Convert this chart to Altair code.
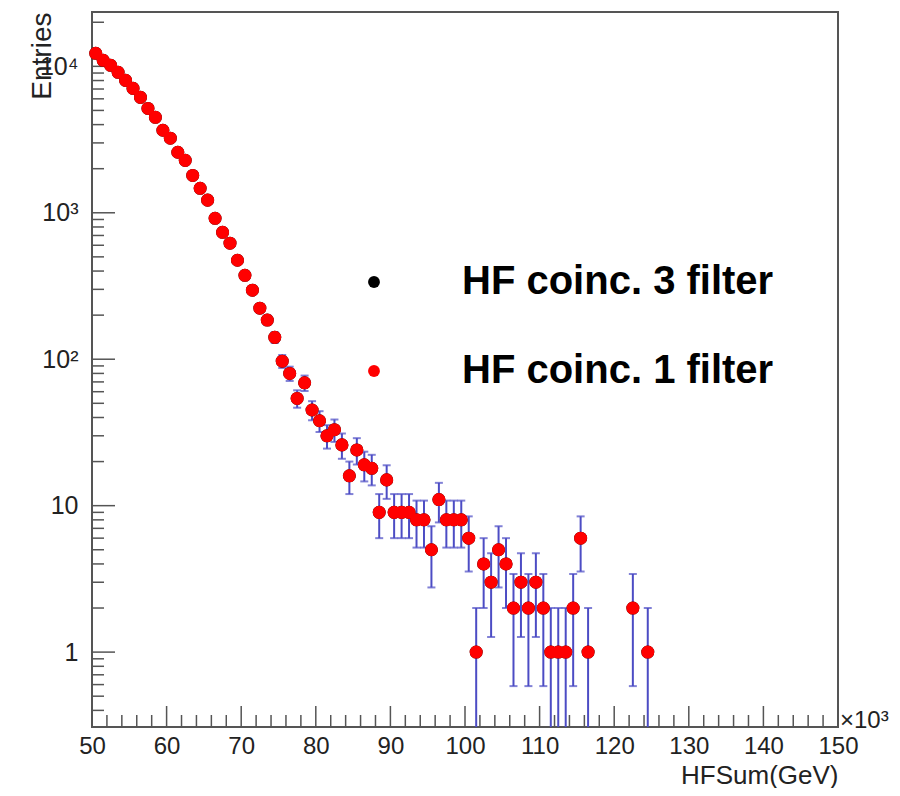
import math
import altair as alt
import pandas as pd

# ---------------- data ----------------
bin_centers = [50.5, 51.5, 52.5, 53.5, 54.5, 55.5, 56.5, 57.5, 58.5, 59.5,
               60.5, 61.5, 62.5, 63.5, 64.5, 65.5, 66.5, 67.5, 68.5, 69.5,
               70.5, 71.5, 72.5, 73.5, 74.5, 75.5, 76.5, 77.5, 78.5, 79.5,
               80.5, 81.5, 82.5, 83.5, 84.5, 85.5, 86.5, 87.5, 88.5, 89.5,
               90.5, 91.5, 92.5, 93.5, 94.5, 95.5, 96.5, 97.5, 98.5, 99.5,
               100.5, 101.5, 102.5, 103.5, 104.5, 105.5, 106.5, 107.5, 108.5, 109.5,
               110.5, 111.5, 112.5, 113.5, 114.5, 115.5, 116.5, 122.5, 124.5]

counts_coinc1 = [12270, 10990, 10160, 9100, 8020, 7070, 6140, 5160, 4490, 3660,
                 3230, 2590, 2280, 1800, 1470, 1220, 917, 736, 620, 474,
                 374, 296, 223, 185, 141, 97, 80, 54, 69, 45,
                 38, 30, 33, 26, 16, 24, 19, 18, 9, 15,
                 9, 9, 9, 8, 8, 5, 11, 8, 8, 8,
                 6, 1, 4, 3, 5, 4, 2, 3, 2, 3,
                 2, 1, 1, 1, 2, 6, 1, 2, 1]

counts_coinc3 = [12270, 10990, 10160, 9100, 8020, 7070, 6140, 5160, 4490, 3660,
                 3230, 2590, 2280, 1800, 1470, 1220, 917, 736, 620, 474,
                 374, 296, 223, 185, 141, 97, 80, 54, 69, 45,
                 38, 30, 33, 26, 16, 24, 19, 18, 9, 15,
                 9, 9, 9, 8, 8, 5, 11, 8, 8, 8,
                 6, 1, 4, 3, 5, 4, 2, 3, 2, 3,
                 2, 1, 1, 1, 2, 6, 1, 2, 1]

series_names = ["HF coinc. 3 filter", "HF coinc. 1 filter"]
series_colors = ["#000000", "#ff0000"]

x_label_values = [50, 60, 70, 80, 90, 100, 110, 120, 130, 140, 150]
x_major_ticks = [50, 60, 70, 80, 90, 100, 110, 120, 130, 140, 150]
x_minor_ticks = [52, 54, 56, 58, 62, 64, 66, 68, 72, 74, 76, 78, 82, 84, 86, 88,
                 92, 94, 96, 98, 102, 104, 106, 108, 112, 114, 116, 118,
                 122, 124, 126, 128, 132, 134, 136, 138, 142, 144, 146, 148]

y_label_values = [1, 10, 100, 1000, 10000]
y_label_texts = ["1", "10", "10²", "10³", "10⁴"]
y_minor_ticks = [0.4, 0.5, 0.6, 0.7, 0.8, 0.9,
                 2, 3, 4, 5, 6, 7, 8, 9,
                 20, 30, 40, 50, 60, 70, 80, 90,
                 200, 300, 400, 500, 600, 700, 800, 900,
                 2000, 3000, 4000, 5000, 6000, 7000, 8000, 9000, 20000]

x_domain = [50, 150]
y_domain = [0.308, 23500]

# ---------------- layout ----------------
W, H = 746, 715
FONT = "Liberation Sans"
AX = "#555555"
TXT = "#222222"
ERR = "#4c4cc4"

# ---------------- tables ----------------
pts = pd.DataFrame(
    [{"x": c, "n": n, "series": series_names[0]} for c, n in zip(bin_centers, counts_coinc3)]
    + [{"x": c, "n": n, "series": series_names[1]} for c, n in zip(bin_centers, counts_coinc1)]
)
err = pd.DataFrame({
    "x": bin_centers,
    "lo": [max(n - math.sqrt(n), 1e-3) for n in counts_coinc1],
    "hi": [n + math.sqrt(n) for n in counts_coinc1],
})
xt_major = pd.DataFrame({"v": x_major_ticks})
xt_minor = pd.DataFrame({"v": x_minor_ticks})
yt_major = pd.DataFrame({"v": y_label_values})
yt_minor = pd.DataFrame({"v": y_minor_ticks})

# label expression for the log axis
expr = "''"
for v, t in reversed(list(zip(y_label_values, y_label_texts))):
    expr = f"(abs(datum.value - {v}) < {v} * 0.01) ? '{t}' : " + expr

xscale = alt.Scale(domain=x_domain, nice=False, zero=False)
yscale = alt.Scale(type="log", domain=y_domain, nice=False)

xaxis = alt.Axis(values=x_label_values, ticks=False, domain=False, grid=False,
                 labelFont=FONT, labelFontSize=24, labelColor=TXT, labelPadding=7,
                 labelFlush=False, labelOverlap=False,
                 title="HFSum(GeV)", titleFont=FONT, titleFontSize=26,
                 titleFontWeight="normal", titleColor=TXT,
                 titleX=W, titleY=56, titleAlign="right", titleBaseline="alphabetic")
yaxis = alt.Axis(values=y_label_values, ticks=False, domain=False, grid=False,
                 labelExpr=expr, labelFont=FONT, labelFontSize=25, labelColor=TXT,
                 labelPadding=14, labelOverlap=False,
                 title="Entries", titleFont=FONT, titleFontSize=28,
                 titleFontWeight="normal", titleColor=TXT, titleAngle=270,
                 titleX=-42, titleY=0, titleAlign="right", titleBaseline="alphabetic")


def X(field):
    return alt.X(field, type="quantitative", scale=xscale, axis=xaxis)


def Y(field):
    return alt.Y(field, type="quantitative", scale=yscale, axis=yaxis)


x_major = alt.Chart(xt_major).mark_rule(color=AX, strokeWidth=1.5).encode(
    x=X("v"), y=alt.value(H), y2=alt.value(H - 21))
x_minor = alt.Chart(xt_minor).mark_rule(color=AX, strokeWidth=1.5).encode(
    x=X("v"), y=alt.value(H), y2=alt.value(H - 12))
y_major = alt.Chart(yt_major).mark_rule(color=AX, strokeWidth=1.5).encode(
    y=Y("v"), x=alt.value(0), x2=alt.value(23))
y_minor = alt.Chart(yt_minor).mark_rule(color=AX, strokeWidth=1.5).encode(
    y=Y("v"), x=alt.value(0), x2=alt.value(12))

bars = alt.Chart(err).mark_rule(color=ERR, strokeWidth=2, clip=True).encode(
    x=X("x"), y=Y("lo"), y2="hi")
cap_hi = alt.Chart(err).mark_tick(color=ERR, orient="horizontal", size=8,
                                  thickness=2, clip=True).encode(x=X("x"), y=Y("hi"))
cap_lo = alt.Chart(err).mark_tick(color=ERR, orient="horizontal", size=8,
                                  thickness=2, clip=True).encode(x=X("x"), y=Y("lo"))

points = alt.Chart(pts).mark_circle(size=170, opacity=1).encode(
    x=X("x"), y=Y("n"),
    color=alt.Color("series:N",
                    scale=alt.Scale(domain=series_names, range=series_colors),
                    sort=series_names,
                    legend=alt.Legend(orient="none", legendX=262, legendY=250,
                                      title=None, symbolType="circle", symbolSize=140,
                                      symbolStrokeWidth=0, labelFont=FONT,
                                      labelFontSize=40, labelFontWeight="bold",
                                      labelColor="#000000", labelOffset=68,
                                      rowPadding=49, padding=0, labelLimit=0)),
    order=alt.Order("series:N", sort="descending"),
)

exp_text = alt.Chart(pd.DataFrame({"t": ["×10³"]})).mark_text(
    font=FONT, fontSize=24, color=TXT, align="left", baseline="alphabetic").encode(
    text="t:N", x=alt.value(W + 2), y=alt.value(H + 1))

chart = alt.layer(
    x_minor, x_major, y_minor, y_major, bars, cap_hi, cap_lo, points, exp_text
).properties(
    width=W, height=H,
    autosize=alt.AutoSizeParams(type="none"),
    padding={"left": 84, "top": 4, "right": 54, "bottom": 61},
    background="white",
).configure_view(stroke=AX, strokeWidth=2)

chart.save("out.html", embed_options={"renderer": "svg", "actions": False})
